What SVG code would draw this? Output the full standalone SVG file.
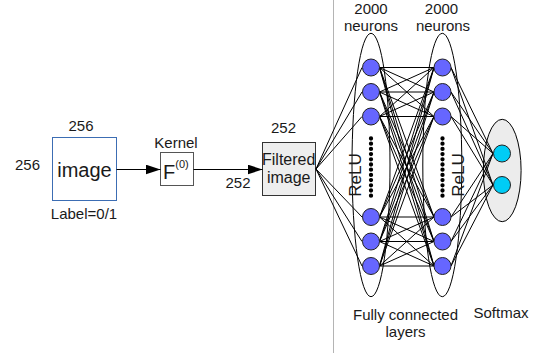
<svg xmlns="http://www.w3.org/2000/svg" width="536" height="358" viewBox="0 0 536 358">
<style>
text{font-family:"Liberation Sans",Arial,sans-serif;fill:#1a1a1a;font-size:15px}
.m{text-anchor:middle}
.c{stroke:#000;stroke-width:1;fill:none}
.neu{fill:#6666ff;stroke:#222;stroke-width:1}
.sm{fill:#00ccf5;stroke:#222;stroke-width:1}
.layer{fill:none;stroke:#000;stroke-width:1}
.dots{stroke:#000;stroke-width:4.3;stroke-linecap:round;stroke-dasharray:0 5.2;fill:none}
</style>
<defs>
<marker id="arr" markerUnits="userSpaceOnUse" markerWidth="15" markerHeight="10" refX="15" refY="5" orient="auto">
<path d="M0,0L15,5L0,10z" fill="#000"/>
</marker>
</defs>
<rect width="536" height="358" fill="#fff"/>
<line x1="333.5" y1="0" x2="333.5" y2="353" stroke="#b4b4b4" stroke-width="1"/>

<g id="node-image">
<rect x="52.5" y="137.5" width="64" height="63" fill="#fff" stroke="#3c6db3" stroke-width="1"/>
<text class="m" x="84.5" y="176.5" style="font-size:20px">image</text>
<text class="m" x="81" y="131">256</text>
<text class="m" x="27.5" y="169.5">256</text>
<text class="m" x="84" y="219">Label=0/1</text>
</g>

<g id="node-kernel">
<rect x="160.5" y="152.5" width="33" height="33" fill="#fff" stroke="#555" stroke-width="1"/>
<text x="163" y="178.5" style="font-size:20px">F<tspan style="font-size:11px" dy="-11">(0)</tspan></text>
<text class="m" x="176" y="147.5">Kernel</text>
</g>

<g id="node-filtered">
<rect x="262.5" y="142.5" width="53" height="53" fill="#eeeeee" stroke="#333" stroke-width="1"/>
<text class="m" x="288.7" y="165.3" style="font-size:16px">Filtered</text>
<text class="m" x="288.7" y="183.3" style="font-size:16px">image</text>
<text class="m" x="283.5" y="133.3">252</text>
</g>

<g id="labels">
<text class="m" x="238" y="187.5">252</text>
<text class="m" x="371" y="13.7">2000</text>
<text class="m" x="371" y="30.6">neurons</text>
<text class="m" x="441.5" y="13.7">2000</text>
<text class="m" x="443" y="30.6">neurons</text>
<text class="m" x="405.5" y="319.5">Fully connected</text>
<text class="m" x="405.5" y="336.5">layers</text>
<text class="m" x="501" y="317.5">Softmax</text>
</g>

<g id="layer-shapes">
<ellipse class="layer" cx="371" cy="165" rx="19" ry="131.7"/>
<ellipse class="layer" cx="442.3" cy="165" rx="19.5" ry="131.7"/>
<ellipse cx="502.2" cy="170.5" rx="18.9" ry="51.2" fill="#ececec" stroke="#000" stroke-width="1"/>
</g>

<g id="connectors">
<line class="c" x1="116.5" y1="169.5" x2="160.5" y2="169.5" marker-end="url(#arr)"/>
<line class="c" x1="193.5" y1="169.5" x2="262.5" y2="169.5" marker-end="url(#arr)"/>
<path class="c" d="M316 169L362 67.5M316 169L362 92M316 169L362 116.5M316 169L362 217M316 169L362 241.5M316 169L362 266"/>
<path class="c" d="M379.5 67.5L434 67.5M379.5 67.5L434 92M379.5 67.5L434 116.5M379.5 67.5L434 217M379.5 67.5L434 241.5M379.5 67.5L434 266"/>
<path class="c" d="M379.5 92L434 67.5M379.5 92L434 92M379.5 92L434 116.5M379.5 92L434 217M379.5 92L434 241.5M379.5 92L434 266"/>
<path class="c" d="M379.5 116.5L434 67.5M379.5 116.5L434 92M379.5 116.5L434 116.5M379.5 116.5L434 217M379.5 116.5L434 241.5M379.5 116.5L434 266"/>
<path class="c" d="M379.5 217L434 67.5M379.5 217L434 92M379.5 217L434 116.5M379.5 217L434 217M379.5 217L434 241.5M379.5 217L434 266"/>
<path class="c" d="M379.5 241.5L434 67.5M379.5 241.5L434 92M379.5 241.5L434 116.5M379.5 241.5L434 217M379.5 241.5L434 241.5M379.5 241.5L434 266"/>
<path class="c" d="M379.5 266L434 67.5M379.5 266L434 92M379.5 266L434 116.5M379.5 266L434 217M379.5 266L434 241.5M379.5 266L434 266"/>
<path class="c" d="M451 67.5L493 153.5M451 92L493 153.5M451 116.5L493 153.5M451 217L493 153.5M451 241.5L493 153.5M451 266L493 153.5"/>
<path class="c" d="M451 67.5L493 185M451 92L493 185M451 116.5L493 185M451 217L493 185M451 241.5L493 185M451 266L493 185"/>
</g>

<g id="node-layer1">
<circle class="neu" cx="371" cy="67.5" r="8.5"/>
<circle class="neu" cx="371" cy="92" r="8.5"/>
<circle class="neu" cx="371" cy="116.5" r="8.5"/>
<circle class="neu" cx="371" cy="217" r="8.5"/>
<circle class="neu" cx="371" cy="241.5" r="8.5"/>
<circle class="neu" cx="371" cy="266" r="8.5"/>
<line class="dots" x1="371" y1="138.5" x2="371" y2="196"/>
<text class="m" transform="translate(361,175) rotate(-90)" style="font-size:17px">ReLU</text>
</g>

<g id="node-layer2">
<circle class="neu" cx="442.5" cy="67.5" r="8.5"/>
<circle class="neu" cx="442.5" cy="92" r="8.5"/>
<circle class="neu" cx="442.5" cy="116.5" r="8.5"/>
<circle class="neu" cx="442.5" cy="217" r="8.5"/>
<circle class="neu" cx="442.5" cy="241.5" r="8.5"/>
<circle class="neu" cx="442.5" cy="266" r="8.5"/>
<line class="dots" x1="442.5" y1="138.5" x2="442.5" y2="196"/>
<text class="m" transform="translate(464,175) rotate(-90)" style="font-size:17px">ReLU</text>
</g>

<g id="node-softmax">
<circle class="sm" cx="502" cy="153.5" r="8.5"/>
<circle class="sm" cx="502" cy="185" r="8.5"/>
</g>
</svg>
